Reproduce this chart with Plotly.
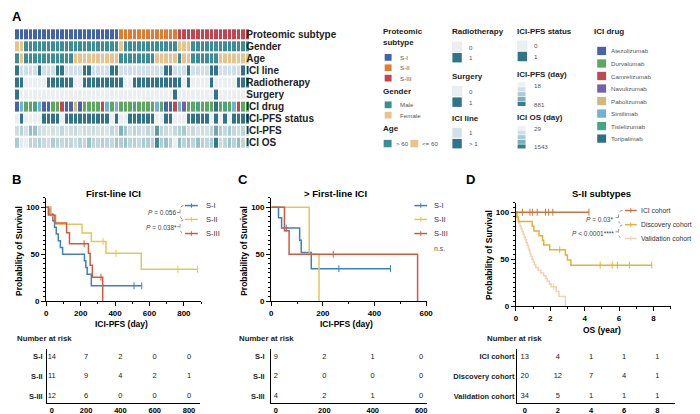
import plotly.graph_objects as go
from plotly.colors import sample_colorscale

W, H = 700, 414
FONT = "Liberation Sans"

# ---------------- Panel A data (52 patients) ----------------
row_names = ["Proteomic subtype", "Gender", "Age", "ICI line", "Radiotherapy",
             "Surgery", "ICI drug", "ICI-PFS status", "ICI-PFS", "ICI OS"]
subtype_labels = ["S-I", "S-II", "S-III"]
subtype = [0,0,0,0,0,0,0,0,0,0, 0,0,0,0,0,0,0,0,0,0, 0,0,0,1,1,1,1,1,1,1,
           1,1,1,1,1,1,2,2,2,2, 2,2,2,2,2,2,2,2,2,2, 2,2]
gender_labels = ["Male", "Female"]
gender = [1,1,0,0,0,0,0,0,0,0, 0,0,0,0,0,0,0,0,0,0, 0,0,0,1,0,0,0,0,0,0,
          0,0,0,0,0,0,1,1,1,0, 0,0,0,0,0,0,0,0,0,0, 0,0]
age_labels = ["> 60", "<= 60"]
age = [0,1,0,0,0,0,0,0,0,0, 0,0,0,1,1,1,1,1,1,1, 1,1,1,0,0,0,0,0,0,0,
       0,1,1,1,1,1,0,1,1,0, 0,0,0,0,0,1,1,1,1,1, 1,1]
ici_line_labels = ["1", "> 1"]
ici_line = [1,0,0,0,0,1,0,0,0,1, 1,0,0,0,0,1,1,0,0,0, 0,1,1,0,0,0,0,0,0,0,
            0,0,0,1,1,0,0,0,1,0, 0,0,0,1,1,0,0,0,0,0, 1,0]
radiotherapy = [1,1,0,0,0,0,0,1,1,1, 1,1,1,0,0,1,1,1,1,1, 1,1,1,1,0,0,1,1,1,1,
                1,1,1,1,1,1,1,0,1,0, 0,0,0,1,0,0,0,0,0,1, 1,1]
surgery = [1,0,0,0,0,0,0,0,0,0, 0,0,0,0,0,0,0,0,0,0, 0,0,0,0,0,0,0,0,0,0,
           0,0,0,0,0,1,0,0,0,0, 0,0,0,0,1,0,0,0,0,0, 0,0]
drug_labels = ["Atezolizumab", "Durvalumab", "Camrelizumab", "Navulizumab",
               "Pabolizumab", "Sintilimab", "Tislelizumab", "Toripalimab"]
ici_drug = [0,5,1,1,6,5,0,0,1,1, 2,0,0,4,0,1,1,1,1,2, 5,1,5,1,1,1,6,1,1,1,
            1,5,1,0,0,2,5,3,1,1, 6,1,1,1,7,1,6,1,5,2, 1,1]
pfs_status = [0,1,0,0,0,0,1,1,1,1, 0,1,1,1,1,1,1,1,1,1, 1,0,1,0,0,1,1,1,1,1,
              1,0,0,1,1,0,0,0,1,1, 1,1,1,0,1,0,1,0,1,1, 1,1]
ici_pfs = [110,190,90,330,300,120,95,70,100,80, 150,85,110,140,75,120,100,130,90,110,
           70,160,120,420,260,110,180,140,100,170, 130,620,170,130,90,150,200,250,110,140,
           90,120,100,170,520,210,150,240,160,120, 180,130]
ici_os = [420,90,40,300,280,350,250,200,380,300, 250,330,280,200,310,260,520,300,280,350,
          300,260,480,380,520,300,350,260,420,380, 330,1350,400,520,350,40,600,330,450,300,
          550,350,280,400,1520,250,300,500,350,600, 300,380]
pfs_range = [18, 881]
os_range = [29, 1543]

# ---------------- Panel B data (first-line ICI, ICI-PFS days) ----------------
b_groups = ["S-I", "S-II", "S-III"]
b_t_s1 = [0, 22, 38, 48, 58, 70, 82, 95, 222, 230, 238, 262, 555]
b_s_s1 = [100, 92.9, 85.7, 78.6, 71.4, 64.3, 57.1, 50, 42.9, 35.7, 28.6, 16.3, 16.3]
b_ct_s1 = [510, 555]
b_cs_s1 = [16.3, 16.3]
b_t_s2 = [0, 28, 55, 208, 262, 347, 552, 880]
b_s_s2 = [100, 90.9, 81.8, 72.7, 63.6, 50.9, 33.9, 33.9]
b_ct_s2 = [330, 405, 765, 880]
b_cs_s2 = [63.6, 50.9, 33.9, 33.9]
b_t_s3 = [0, 12, 50, 118, 135, 245, 255, 268, 328]
b_s_s3 = [100, 91.7, 83.3, 72.9, 61.1, 50.9, 38.2, 25.5, 0]
b_ct_s3 = [220, 318]
b_cs_s3 = [61.1, 25.5]
b_risk_times = [0, 200, 400, 600, 800]
b_risk_s1 = [14, 7, 2, 0, 0]
b_risk_s2 = [11, 9, 4, 2, 1]
b_risk_s3 = [12, 6, 0, 0, 0]

# ---------------- Panel C data (> first-line ICI) ----------------
c_t_s1 = [0, 28, 40, 110, 116, 155, 462]
c_s_s1 = [100, 88.9, 77.8, 64.8, 51.9, 34.6, 34.6]
c_ct_s1 = [58, 262, 462]
c_cs_s1 = [77.8, 34.6, 34.6]
c_t_s2 = [0, 147, 185]
c_s_s2 = [100, 50, 0]
c_t_s3 = [0, 51, 69, 567]
c_s_s3 = [100, 75, 50, 0]
c_ct_s3 = [240]
c_cs_s3 = [50]
c_risk_times = [0, 200, 400, 600]
c_risk_s1 = [9, 2, 1, 0]
c_risk_s2 = [2, 0, 0, 0]
c_risk_s3 = [4, 2, 1, 0]

# ---------------- Panel D data (S-II subtypes, OS years) ----------------
d_groups = ["ICI cohort", "Discovery cohort", "Validation cohort"]
d_t_ici = [0, 4.25]
d_s_ici = [100, 100]
d_ct_ici = [0.38, 0.82, 0.96, 1.24, 1.72, 1.91, 2.15, 4.25]
d_cs_ici = [100, 100, 100, 100, 100, 100, 100, 100]
d_t_dis = [0, 0.05, 0.15, 0.95, 1.05, 1.35, 1.55, 1.62, 1.97, 2.88, 3.0, 3.2, 7.9]
d_s_dis = [100, 95, 90, 85, 80, 75, 70, 65, 60, 54.5, 49.1, 43.6, 43.6]
d_ct_dis = [2.55, 4.9, 5.6, 5.9, 6.6, 7.9]
d_cs_dis = [60, 43.6, 43.6, 43.6, 43.6, 43.6]
d_t_val = [0, 0.04, 0.08, 0.12, 0.18, 0.24, 0.3, 0.36, 0.42, 0.48, 0.55, 0.6, 0.66,
           0.72, 0.77, 0.82, 0.88, 0.94, 1.0, 1.08, 1.16, 1.3, 1.45, 1.62, 1.75, 1.82,
           1.95, 2.05, 2.35, 2.5, 2.88]
d_s_val = [100, 97.1, 94.1, 91.2, 88.2, 85.3, 82.4, 79.4, 76.5, 73.5, 70.6, 67.6, 64.7,
           61.8, 58.8, 55.9, 52.9, 50.0, 47.1, 44.1, 41.2, 38.2, 35.3, 32.4, 29.4, 26.5,
           23.5, 20.6, 15.4, 10.3, 0]
d_ct_val = [2.2]
d_cs_val = [20.6]
d_risk_times = [0, 2, 4, 6, 8]
d_risk_ici = [13, 4, 1, 1, 1]
d_risk_dis = [20, 12, 7, 4, 1]
d_risk_val = [34, 5, 1, 1, 1]

# ---------------- styles ----------------
C_SUB = ["#4262a9", "#e07c31", "#c4434d"]
C_GEN = ["#3b8e96", "#e8c48c"]
C_BIN = ["#eceff2", "#2f7488"]
C_LINE = ["#cfe0ec", "#2f7488"]
C_DRUG = ["#4a62a8", "#5da75e", "#c2474d", "#7462a8", "#cfb97c", "#72b1d1", "#45a684", "#2d7088"]
CONT_CS = [[0, "#eaf2f4"], [0.12, "#c9dde2"], [0.35, "#94bfc6"], [1, "#2b7a86"]]
KM_B = ["#3f7fc0", "#e6c55a", "#d3593d"]
KM_D = ["#c9743a", "#e4b336", "#f0d2ae"]

TAB_TOP, TAB_BOT = 345, 400


def px(x):
    return x / W


def py(y):
    return 1 - y / H


def disc_cs(colors):
    n = len(colors)
    cs = []
    for i, c in enumerate(colors):
        cs.append([i / n, c])
        cs.append([(i + 1) / n, c])
    return cs


fig = go.Figure()

# ---- heatmap rows
rows = [(subtype, C_SUB), (gender, C_GEN), (age, C_GEN), (ici_line, C_LINE),
        (radiotherapy, C_BIN), (surgery, C_BIN), (ici_drug, C_DRUG), (pfs_status, C_BIN)]
for r, (vals, cols) in enumerate(rows):
    fig.add_trace(go.Heatmap(z=[vals], x0=0, dx=1, y0=r, dy=1, colorscale=disc_cs(cols),
                             zmin=-0.5, zmax=len(cols) - 0.5, showscale=False, xgap=1, ygap=2,
                             hoverinfo="skip", xaxis="x", yaxis="y"))
fig.add_trace(go.Heatmap(z=[ici_pfs], x0=0, dx=1, y0=8, dy=1, colorscale=CONT_CS,
                         zmin=pfs_range[0], zmax=pfs_range[1], showscale=False, xgap=1, ygap=2,
                         hoverinfo="skip", xaxis="x", yaxis="y"))
fig.add_trace(go.Heatmap(z=[ici_os], x0=0, dx=1, y0=9, dy=1, colorscale=CONT_CS,
                         zmin=os_range[0], zmax=os_range[1], showscale=False, xgap=1, ygap=2,
                         hoverinfo="skip", xaxis="x", yaxis="y"))


# ---- KM curves
def km(t, s, ct, cs, color, xa, ya, lw=1.5):
    fig.add_trace(go.Scatter(x=t, y=s, mode="lines", line=dict(color=color, width=lw, shape="hv"),
                             xaxis=xa, yaxis=ya, showlegend=False, hoverinfo="skip"))
    if ct:
        fig.add_trace(go.Scatter(x=ct, y=cs, mode="markers",
                                 marker=dict(symbol="line-ns", size=5, line=dict(color=color, width=1)),
                                 xaxis=xa, yaxis=ya, showlegend=False, hoverinfo="skip"))


km(b_t_s1, b_s_s1, b_ct_s1, b_cs_s1, KM_B[0], "x2", "y2")
km(b_t_s2, b_s_s2, b_ct_s2, b_cs_s2, KM_B[1], "x2", "y2")
km(b_t_s3, b_s_s3, b_ct_s3, b_cs_s3, KM_B[2], "x2", "y2")
km(c_t_s1, c_s_s1, c_ct_s1, c_cs_s1, KM_B[0], "x3", "y3")
km(c_t_s2, c_s_s2, [], [], KM_B[1], "x3", "y3")
km(c_t_s3, c_s_s3, c_ct_s3, c_cs_s3, KM_B[2], "x3", "y3")
km(d_t_val, d_s_val, d_ct_val, d_cs_val, KM_D[2], "x4", "y4")
km(d_t_dis, d_s_dis, d_ct_dis, d_cs_dis, KM_D[1], "x4", "y4")
km(d_t_ici, d_s_ici, d_ct_ici, d_cs_ici, KM_D[0], "x4", "y4")


# ---- risk tables
def risk(times, rows_vals, xa, ya):
    n = len(rows_vals)
    for i, vals in enumerate(rows_vals):
        fig.add_trace(go.Scatter(x=times, y=[n - 1 - i] * len(times), mode="text",
                                 text=[str(v) for v in vals],
                                 textfont=dict(family=FONT, size=7.5, color="#222"),
                                 xaxis=xa, yaxis=ya, showlegend=False, hoverinfo="skip"))


risk(b_risk_times, [b_risk_s1, b_risk_s2, b_risk_s3], "x5", "y5")
risk(c_risk_times, [c_risk_s1, c_risk_s2, c_risk_s3], "x6", "y6")
risk(d_risk_times, [d_risk_ici, d_risk_dis, d_risk_val], "x7", "y7")

# ---------------- layout ----------------
tickf = dict(family=FONT, size=8, color="black", weight="bold")


def km_x(dom, rng, tv, minor_dt, anchor):
    return dict(domain=[px(dom[0]), px(dom[1])], range=rng, anchor=anchor, showline=True,
                linecolor="black", linewidth=1.3, ticks="outside", ticklen=4, tickwidth=1.3,
                tickcolor="black", tickvals=tv, tickfont=tickf, showgrid=False, zeroline=False,
                minor=dict(dtick=minor_dt, ticks="outside", ticklen=2, tickwidth=1, tickcolor="black"))


def km_y(dom, anchor):
    return dict(domain=[py(dom[1]), py(dom[0])], range=[0, 110], anchor=anchor, showline=True,
                linecolor="black", linewidth=1.3, ticks="outside", ticklen=4, tickwidth=1.3,
                tickcolor="black", tickvals=[0, 50, 100], tickfont=tickf, showgrid=False,
                zeroline=False,
                minor=dict(dtick=5, ticks="outside", ticklen=2, tickwidth=1, tickcolor="black"))


def tab_x(dom, rng, tv, anchor):
    return dict(domain=[px(dom[0]), px(dom[1])], range=rng, anchor=anchor, showline=True,
                linecolor="black", linewidth=1.2, ticks="", ticklen=0, tickvals=tv,
                tickfont=dict(family=FONT, size=7.5, color="black", weight="bold"),
                showgrid=False, zeroline=False, ticklabelstandoff=0)


def tab_y(labels, anchor, standoff):
    return dict(domain=[py(TAB_BOT), py(TAB_TOP)], range=[-0.35, 2.4], anchor=anchor, showline=True,
                linecolor="black", linewidth=1.2, ticks="", ticklen=0, tickvals=[2, 1, 0],
                ticktext=labels, tickfont=dict(family=FONT, size=7.5, color="#222", weight="bold"),
                showgrid=False, zeroline=False, ticklabelstandoff=standoff)


layout = dict(
    width=W, height=H, autosize=False, margin=dict(l=0, r=0, t=0, b=0),
    paper_bgcolor="white", plot_bgcolor="white", showlegend=False,
    font=dict(family=FONT, color="#222"),
    xaxis=dict(domain=[px(5), px(243)], range=[-0.5, 51.5], visible=False, anchor="y"),
    yaxis=dict(domain=[py(142.5), py(20.5)], range=[9.5, -0.5], anchor="x", side="right",
               tickvals=list(range(10)), ticktext=row_names, ticks="", ticklen=0, showline=False,
               showgrid=False, zeroline=False, ticklabelstandoff=-5,
               tickfont=dict(family=FONT, size=10, color="#222", weight="bold")),
    xaxis2=km_x((36.7, 193.3), [0, 900], [0, 200, 400, 600, 800], 100, "y2"),
    yaxis2=km_y((192.2, 296.7), "x2"),
    xaxis3=km_x((264.3, 421.7), [0, 603], [0, 200, 400, 600], 100, "y3"),
    yaxis3=km_y((192.2, 296.7), "x3"),
    xaxis4=km_x((511.7, 668.3), [0, 9], [0, 2, 4, 6, 8], 1, "y4"),
    yaxis4=km_y((197.2, 301.7), "x4"),
    xaxis5=tab_x((37.7, 192.7), [-26.5, 867], b_risk_times, "y5"),
    yaxis5=tab_y(b_groups, "x5", 2),
    xaxis6=tab_x((264.3, 422), [-19, 625], c_risk_times, "y6"),
    yaxis6=tab_y(b_groups, "x6", 4),
    xaxis7=tab_x((513, 673), [-0.46, 9.09], d_risk_times, "y7"),
    yaxis7=tab_y(d_groups, "x7", 0),
)
fig.update_layout(**layout)

ann = []
shapes = []


def txt(x, y, s, size=7, bold=False, color="#222", anchor="left", angle=0):
    ann.append(dict(x=px(x), y=py(y), xref="paper", yref="paper", text=s, showarrow=False,
                    xanchor=anchor, yanchor="middle", textangle=angle, borderpad=0,
                    font=dict(family=FONT, size=size, color=color,
                              weight="bold" if bold else "normal")))


def rect(x0, y0, x1, y1, color, border=None):
    shapes.append(dict(type="rect", xref="paper", yref="paper", x0=px(x0), x1=px(x1),
                       y0=py(y1), y1=py(y0), fillcolor=color,
                       line=dict(width=0.6 if border else 0, color=border or color)))


def seg(x0, y0, x1, y1, color, w=1.5, dash="solid"):
    shapes.append(dict(type="line", xref="paper", yref="paper", x0=px(x0), x1=px(x1),
                       y0=py(y0), y1=py(y1), line=dict(color=color, width=w, dash=dash)))


def bracket(xr, xl, y0, y1):
    ym = (y0 + y1) / 2
    path = (f"M {px(xr)},{py(y0)} Q {px(xl)},{py(y0)} {px(xl)},{py(ym)} "
            f"Q {px(xl)},{py(y1)} {px(xr)},{py(y1)} M {px(xl)},{py(ym)} L {px(xl - 3)},{py(ym)}")
    shapes.append(dict(type="path", xref="paper", yref="paper", path=path,
                       line=dict(color="#9a9a9a", width=1, dash="dot")))


# panel letters
txt(1, 9, "A", 13, True, "black")
txt(1, 174, "B", 13, True, "black")
txt(230, 174, "C", 13, True, "black")
txt(460, 174, "D", 13, True, "black")

# ---- panel A legend
LT = 8  # legend title size
LS = 6.2  # legend item size
LC = "#555"
txt(376, 24, "Proteomic", LT, True)
txt(376, 35, "subtype", LT, True)
for i, lab in enumerate(subtype_labels):
    yc = 50 + i * 10.5
    rect(379, yc - 3.4, 386, yc + 3.4, C_SUB[i])
    txt(394, yc, lab, LS, False, LC)
txt(376, 85, "Gender", LT, True)
for i, lab in enumerate(gender_labels):
    yc = 98 + i * 10.5
    rect(379, yc - 3.4, 386, yc + 3.4, C_GEN[i])
    txt(394, yc, lab, LS, False, LC)
txt(376, 122, "Age", LT, True)
rect(378, 133.5, 386, 141, C_GEN[0])
txt(389, 137, age_labels[0], LS, False, LC)
rect(405, 133.5, 413, 141, C_GEN[1])
txt(416, 137, age_labels[1], LS, False, LC)


def binleg(x, ytitle, title, ytop, cols, labels):
    txt(x, ytitle, title, LT, True)
    for i, c in enumerate(cols):
        y0 = ytop + i * 11
        rect(x + 1.5, y0, x + 11, y0 + 9.6, c, "#e2e5e8" if i == 0 else None)
        txt(x + 17, y0 + 5, labels[i], LS, False, LC)


binleg(446, 24, "Radiotherapy", 34.5, C_BIN, ["0", "1"])
binleg(446, 69, "Surgery", 79.5, C_BIN, ["0", "1"])
binleg(446, 112, "ICI line", 121.5, C_LINE, ici_line_labels)
binleg(512, 24, "ICI-PFS status", 33.3, C_BIN, ["0", "1"])


def gradleg(x, ytitle, title, ytop, ybot, lo, hi):
    txt(x, ytitle, title, LT, True)
    nb = 5
    cols = sample_colorscale(CONT_CS, [0.0, 0.1, 0.25, 0.5, 0.95])
    hgt = (ybot - ytop) / nb
    for i in range(nb):
        rect(x + 1.5, ytop + i * hgt + 0.3, x + 9.5, ytop + (i + 1) * hgt - 0.3, cols[i])
    txt(x + 17, ytop + 3, str(lo), LS, False, LC)
    txt(x + 17, ybot - 2, str(hi), LS, False, LC)


gradleg(512, 67, "ICI-PFS (day)", 75, 99.5, pfs_range[0], pfs_range[1])
gradleg(512, 111, "ICI OS (day)", 119, 142.5, os_range[0], os_range[1])

txt(590, 24, "ICI drug", LT, True)
for i, lab in enumerate(drug_labels):
    yc = 43.5 + i * 12.67
    rect(594, yc - 4.2, 603, yc + 4.2, C_DRUG[i])
    txt(607, yc, lab, LS, False, LC)

# ---- KM panel texts
TT = 9.5
txt(104.5, 188, "First-line ICI", TT, True, "black", "center")
txt(329, 188, "> First-line ICI", TT, True, "black", "center")
txt(598, 188, "S-II subtypes", TT, True, "black", "center")
for xc, yc in [(9, 246), (236.5, 246), (484.5, 250)]:
    txt(xc, yc, "Probability of Survival", 8.5, True, "black", "center", -90)
txt(113, 320, "ICI-PFS (day)", 8.5, True, "black", "center")
txt(340, 320, "ICI-PFS (day)", 8.5, True, "black", "center")
txt(599, 326, "OS (year)", 8.5, True, "black", "center")
txt(6, 335, "Number at risk", 7.8, True, "#222")
txt(231, 335, "Number at risk", 7.8, True, "#222")
txt(482, 335, "Number at risk", 7.8, True, "#222")


def kmleg(x0, x1, ys, labels, colors, xl, fs=7.5):
    for y, lab, c in zip(ys, labels, colors):
        seg(x0, y, x1, y, c, 1.5)
        xm = (x0 + x1) / 2
        seg(xm, y - 2.3, xm, y + 2.3, c, 1)
        txt(xl, y, lab, fs, False, "#333")


kmleg(177, 190, [200, 214, 228.3], b_groups, KM_B, 197.5)
kmleg(409, 422, [200, 214, 228.3], b_groups, KM_B, 427.5)
kmleg(622, 634, [205, 219.3, 233.3], d_groups, KM_D, 637.5, 6.8)
txt(427.5, 243.3, "n.s.", 7, False, "#555")

bracket(175.5, 172, 200, 214)
bracket(175.5, 172, 214.5, 228.3)
txt(168.5, 207, "<i>P</i> = 0.056", 6.5, False, "#444", "right")
txt(169.5, 222.5, "<i>P</i> = 0.038*", 6.5, False, "#444", "right")
bracket(619.5, 615.5, 205, 219.3)
bracket(619.5, 615.5, 219.8, 233.3)
txt(611, 214, "<i>P</i> = 0.03*", 6.5, False, "#444", "right")
txt(612, 228.3, "<i>P</i> &lt; 0.0001****", 6.5, False, "#444", "right")

fig.update_layout(annotations=ann, shapes=shapes)
fig.write_html("out.html")
